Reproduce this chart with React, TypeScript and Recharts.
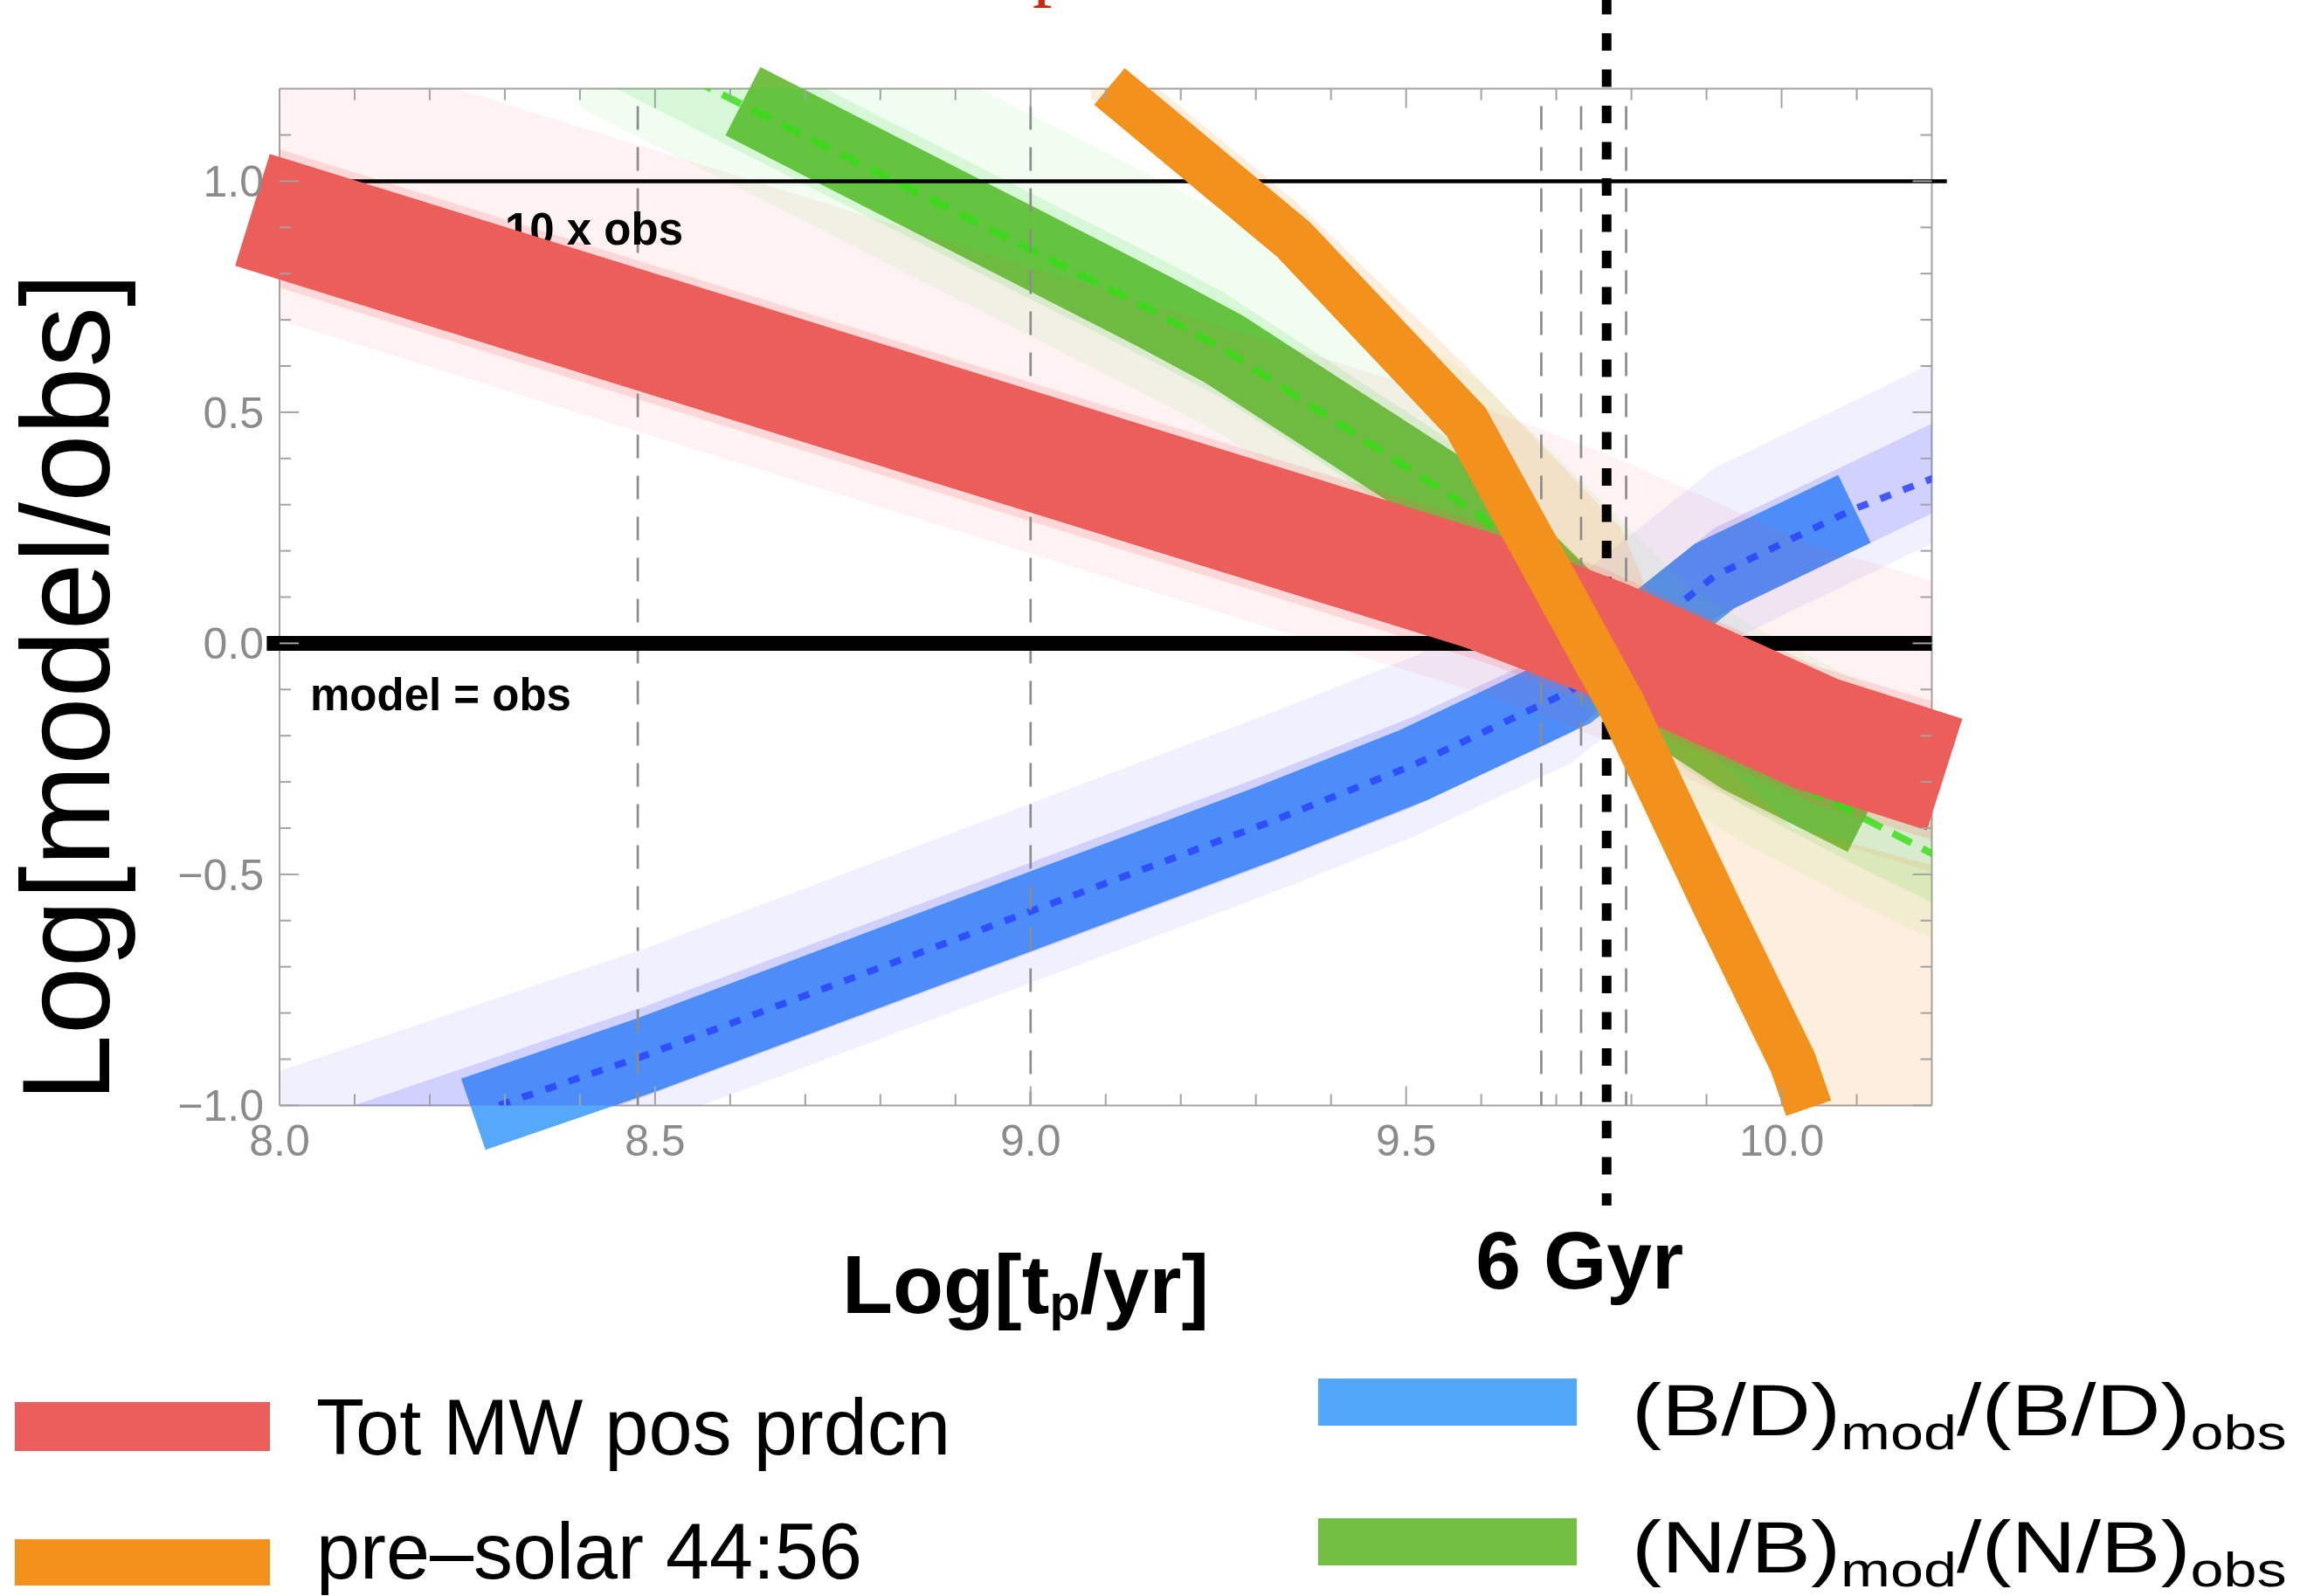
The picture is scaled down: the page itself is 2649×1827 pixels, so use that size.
import React from 'react';
import {
  ComposedChart,
  Line,
  Area,
  XAxis,
  YAxis,
  ReferenceLine,
  ReferenceDot,
} from 'recharts';

const W = 2649;
const H = 1827;
const FONT = '"Liberation Sans", Arial, Helvetica, sans-serif';
const SERIF = '"Liberation Serif", "Times New Roman", serif';

// ---------- Tot MW positron production (red) ----------
const totMwX = [7.964, 9.602, 9.766, 10.047, 10.217];
const totMwY = [0.938, 0.112, 0.01, -0.196, -0.284];
const totMwRangeX = [7.9, 9.602, 9.766, 10.047, 10.25];
const totMwOuterLo = [0.75, -0.11, -0.21, -0.42, -0.52];
const totMwOuterHi = [1.37, 0.51, 0.41, 0.21, 0.11];
const totMwInnerLo = [0.82, -0.04, -0.14, -0.35, -0.45];
const totMwInnerHi = [1.12, 0.26, 0.16, -0.05, -0.15];

// ---------- pre-solar 44:56 (orange) ----------
const preSolarX = [9.105, 9.35, 9.58, 9.786, 9.915, 10.015, 10.036];
const preSolarY = [1.205, 0.874, 0.479, -0.131, -0.574, -0.907, -1.006];
const preSolarRangeX = [9.08, 9.35, 9.58, 9.786, 9.915, 10.015, 10.2];
const preSolarLo = [1.18, 0.82, 0.43, -0.18, -0.62, -0.96, -1.8];
const preSolarHi = [1.32, 0.96, 0.6, 0.25, -0.25, -0.4, -0.48];

// ---------- (B/D)mod/(B/D)obs (blue) ----------
const bdX = [8.258, 8.488, 9.313, 9.508, 9.719, 9.911, 10.097];
const bdY = [-1.019, -0.891, -0.39, -0.265, -0.103, 0.146, 0.291];
const bdMedianX = [8.2, 8.488, 9.313, 9.508, 9.719, 9.911, 10.097, 10.23];
const bdMedianY = [-1.051, -0.891, -0.39, -0.265, -0.103, 0.146, 0.291, 0.375];
const bdRangeX = [7.9, 8.488, 9.313, 9.508, 9.719, 9.911, 10.097, 10.25];
const bdOuterLo = [-1.37, -1.045, -0.545, -0.42, -0.26, -0.01, 0.135, 0.255];
const bdOuterHi = [-0.98, -0.66, -0.155, -0.03, 0.13, 0.38, 0.525, 0.645];
const bdInnerLo = [-1.31, -0.98, -0.48, -0.355, -0.195, 0.055, 0.2, 0.32];
const bdInnerHi = [-1.11, -0.785, -0.285, -0.16, 0.0, 0.25, 0.395, 0.515];

// ---------- (N/B)mod/(N/B)obs (green) ----------
const nbX = [8.617, 9.163, 9.256, 9.596, 9.871, 9.947, 10.111];
const nbY = [1.173, 0.719, 0.638, 0.28, -0.162, -0.243, -0.377];
const nbMedianX = [8.55, 9.163, 9.256, 9.596, 9.871, 9.947, 10.111, 10.23];
const nbMedianY = [1.22, 0.719, 0.638, 0.28, -0.162, -0.243, -0.38, -0.48];
const nbRangeX = [8.4, 9.163, 9.256, 9.596, 9.871, 9.947, 10.111, 10.25];
const nbOuterLo = [1.16, 0.53, 0.45, 0.09, -0.35, -0.43, -0.57, -0.68];
const nbOuterHi = [1.64, 1.01, 0.93, 0.57, 0.13, 0.05, -0.09, -0.2];
const nbInnerLo = [1.24, 0.61, 0.53, 0.17, -0.27, -0.35, -0.49, -0.6];
const nbInnerHi = [1.47, 0.84, 0.76, 0.4, -0.04, -0.12, -0.26, -0.37];

// ---------- reference ages and levels ----------
const ageMarksX = [8.477, 9.0, 9.68, 9.733, 9.793];
const sixGyrX = 9.767;
const tenTimesLevel = 1.0;
const equalityLevel = 0.0;

// ---------- axes ----------
const xDomain = [8, 10.2];
const yDomain = [-1, 1.2];
const xTicks = [8.0, 8.1, 8.2, 8.3, 8.4, 8.5, 8.6, 8.7, 8.8, 8.9, 9.0, 9.1, 9.2, 9.3, 9.4, 9.5, 9.6, 9.7, 9.8, 9.9, 10.0, 10.1];
const xMajor = [8.0, 8.5, 9.0, 9.5, 10.0];
const yTicks = [-1.0, -0.9, -0.8, -0.7, -0.6, -0.5, -0.4, -0.3, -0.2, -0.1, 0.0, 0.1, 0.2, 0.3, 0.4, 0.5, 0.6, 0.7, 0.8, 0.9, 1.0, 1.1];
const yMajor = [-1.0, -0.5, 0.0, 0.5, 1.0];

// ---------- legend ----------
const legendLeft = [
  { label: 'Tot MW pos prdcn', color: '#ec5e59' },
  { label: 'pre\u2013solar 44:56', color: '#f2911b' },
];
const legendRight = [
  { num: 'B/D', color: '#53a7fa' },
  { num: 'N/B', color: '#72bf44' },
];

const pts = (xs: number[], ys: number[]) => xs.map((x, i) => ({ x, y: ys[i] }));
const band = (xs: number[], lo: number[], hi: number[]) =>
  xs.map((x, i) => ({ x, range: [lo[i], hi[i]] }));

const FRAME = '#a3a3a3';
const TICK_TEXT = '#8b8b8b';
const isMajor = (v: number, majors: number[]) => majors.some((m) => Math.abs(m - v) < 1e-6);
const fmt = (v: number) => (v < -1e-9 ? '\u2212' : '') + Math.abs(v).toFixed(1);

const BottomTick = (p: any) => {
  const v = p.payload.value;
  const major = isMajor(v, xMajor);
  return (
    <g>
      <line x1={p.x} x2={p.x} y1={p.y} y2={p.y - (major ? 22 : 13)} stroke={FRAME} strokeWidth={2} />
      {major && (
        <text x={p.x} y={p.y + 58} textAnchor="middle" fontFamily={FONT} fontSize={50} fill={TICK_TEXT}>
          {fmt(v)}
        </text>
      )}
    </g>
  );
};
const TopTick = (p: any) => {
  const major = isMajor(p.payload.value, xMajor);
  return <line x1={p.x} x2={p.x} y1={p.y} y2={p.y + (major ? 22 : 13)} stroke={FRAME} strokeWidth={2} />;
};
const LeftTick = (p: any) => {
  const v = p.payload.value;
  const major = isMajor(v, yMajor);
  return (
    <g>
      <line x1={p.x} x2={p.x + (major ? 22 : 13)} y1={p.y} y2={p.y} stroke={FRAME} strokeWidth={2} />
      {major && (
        <text x={p.x - 18} y={p.y + 18} textAnchor="end" fontFamily={FONT} fontSize={50} fill={TICK_TEXT}>
          {fmt(v)}
        </text>
      )}
    </g>
  );
};
const RightTick = (p: any) => {
  const major = isMajor(p.payload.value, yMajor);
  return <line x1={p.x} x2={p.x - (major ? 22 : 13)} y1={p.y} y2={p.y} stroke={FRAME} strokeWidth={2} />;
};

const XTitle = (props: any) => {
  const vb = props.viewBox || { x: 0, y: 0 };
  return (
    <text x={vb.x + 644} y={vb.y + 237.6} fontFamily={FONT} fontWeight="bold" fontSize={95} fill="#000">
      Log[t
      <tspan fontSize={57} dy={8}>p</tspan>
      <tspan dy={-8}>/yr]</tspan>
    </text>
  );
};
const YTitle = (props: any) => {
  const vb = props.viewBox || { x: 0, y: 0, height: 0 };
  const cx = vb.x - 194;
  const cy = vb.y + vb.height / 2 + 103.5;
  return (
    <text
      transform={`translate(${cx},${cy}) rotate(-90)`}
      textAnchor="middle"
      fontFamily={FONT}
      fontSize={142}
      fill="#000"
      textLength={949}
      lengthAdjust="spacingAndGlyphs"
    >
      Log[model/obs]
    </text>
  );
};

const note = (txt: string, size: number, anchor: 'start' | 'middle') => (p: any) => (
  <text x={p.cx} y={p.cy} textAnchor={anchor} fontFamily={FONT} fontWeight="bold" fontSize={size} fill="#000">
    {txt}
  </text>
);

const thick = {
  xAxisId: 'b',
  yAxisId: 'l',
  dataKey: 'y',
  type: 'linear' as const,
  dot: false,
  activeDot: false,
  isAnimationActive: false,
  strokeLinecap: 'butt' as const,
  strokeLinejoin: 'miter' as const,
  className: 'band-stroke',
};
const shade = {
  xAxisId: 'b',
  yAxisId: 'l',
  dataKey: 'range',
  type: 'linear' as const,
  stroke: 'none',
  dot: false,
  activeDot: false,
  isAnimationActive: false,
};

// the thick model bands run past the frame, so their curves are not clipped
const unclip =
  '.band-stroke, .band-stroke *, [clip-path*="thickband"] { clip-path: none !important; }';

export default function App() {
  return (
    <div style={{ position: 'absolute', left: 0, top: 0, width: W, height: H, background: '#fff', overflow: 'hidden' }}>
      <style>{unclip}</style>
      <ComposedChart width={W} height={H} margin={{ top: 100.6, right: 436.5, bottom: 560.6, left: 319 }}>
        <XAxis
          xAxisId="b"
          type="number"
          dataKey="x"
          domain={xDomain}
          allowDataOverflow
          ticks={xTicks}
          interval={0}
          height={1}
          tickSize={0}
          tickMargin={0}
          tickLine={false}
          axisLine={{ stroke: FRAME, strokeWidth: 2 }}
          tick={BottomTick}
          label={XTitle}
          zIndex={1}
        />
        <XAxis
          xAxisId="t"
          orientation="top"
          type="number"
          dataKey="x"
          domain={xDomain}
          allowDataOverflow
          ticks={xTicks}
          interval={0}
          height={1}
          tickSize={0}
          tickMargin={0}
          tickLine={false}
          axisLine={{ stroke: FRAME, strokeWidth: 2 }}
          tick={TopTick}
          zIndex={1}
        />
        <YAxis
          yAxisId="l"
          type="number"
          domain={yDomain}
          allowDataOverflow
          ticks={yTicks}
          interval={0}
          width={1}
          tickSize={0}
          tickMargin={0}
          tickLine={false}
          axisLine={{ stroke: FRAME, strokeWidth: 2 }}
          tick={LeftTick}
          label={YTitle}
          zIndex={1}
        />
        <YAxis
          yAxisId="r"
          orientation="right"
          type="number"
          domain={yDomain}
          allowDataOverflow
          ticks={yTicks}
          interval={0}
          width={1}
          tickSize={0}
          tickMargin={0}
          tickLine={false}
          axisLine={{ stroke: FRAME, strokeWidth: 2 }}
          tick={RightTick}
          zIndex={1}
        />

        {/* thick model bands that sit under the shaded ranges */}
        <Line {...thick} id="thickband-bd" data={pts(bdX, bdY)} stroke="#55a8fa" strokeWidth={86} zIndex={10} />
        <Line {...thick} id="thickband-nb" data={pts(nbX, nbY)} stroke="#72bf44" strokeWidth={88} zIndex={11} />

        {/* shaded ranges */}
        <Area {...shade} data={band(bdRangeX, bdOuterLo, bdOuterHi)} fill="#3030ff" fillOpacity={0.075} zIndex={20} />
        <Area {...shade} data={band(bdRangeX, bdInnerLo, bdInnerHi)} fill="#3030ff" fillOpacity={0.16} zIndex={21} />
        <Area {...shade} data={band(nbRangeX, nbOuterLo, nbOuterHi)} fill="#33dd33" fillOpacity={0.07} zIndex={22} />
        <Area {...shade} data={band(nbRangeX, nbInnerLo, nbInnerHi)} fill="#33dd33" fillOpacity={0.14} zIndex={23} />
        <Area {...shade} data={band(totMwRangeX, totMwOuterLo, totMwOuterHi)} fill="#ec5e59" fillOpacity={0.08} zIndex={24} />
        <Area {...shade} data={band(totMwRangeX, totMwInnerLo, totMwInnerHi)} fill="#ff5a5a" fillOpacity={0.17} zIndex={25} />
        <Area {...shade} data={band(preSolarRangeX, preSolarLo, preSolarHi)} fill="#f5901e" fillOpacity={0.15} zIndex={26} />

        {/* median curves */}
        <Line
          xAxisId="b"
          yAxisId="l"
          data={pts(bdMedianX, bdMedianY)}
          dataKey="y"
          type="linear"
          stroke="#2a44ff"
          strokeOpacity={0.85}
          strokeWidth={8}
          strokeDasharray="13 15"
          dot={false}
          activeDot={false}
          isAnimationActive={false}
          zIndex={30}
        />
        <Line
          xAxisId="b"
          yAxisId="l"
          data={pts(nbMedianX, nbMedianY)}
          dataKey="y"
          type="linear"
          stroke="#33dd11"
          strokeOpacity={0.8}
          strokeWidth={8}
          strokeDasharray="24 14"
          dot={false}
          activeDot={false}
          isAnimationActive={false}
          zIndex={31}
        />

        {/* age markers */}
        {ageMarksX.map((x) => (
          <ReferenceLine
            key={x}
            xAxisId="b"
            yAxisId="l"
            segment={[{ x, y: 1.2 }, { x, y: -1.0 }]}
            stroke="#8c8c8c"
            strokeWidth={2.7}
            strokeDasharray="27 20"
            strokeDashoffset={27}
            ifOverflow="visible"
            zIndex={40}
          />
        ))}
        <ReferenceLine
          xAxisId="b"
          yAxisId="l"
          segment={[{ x: sixGyrX, y: 1.3987 }, { x: sixGyrX, y: -1.2167 }]}
          stroke="#000"
          strokeWidth={11}
          strokeDasharray="20 21.5"
          ifOverflow="visible"
          zIndex={41}
        />

        {/* reference levels */}
        <ReferenceLine
          xAxisId="b"
          yAxisId="l"
          segment={[{ x: 8.0, y: tenTimesLevel }, { x: 10.22, y: tenTimesLevel }]}
          stroke="#000"
          strokeWidth={4.5}
          ifOverflow="visible"
          zIndex={42}
        />
        <ReferenceLine
          xAxisId="b"
          yAxisId="l"
          segment={[{ x: 7.983, y: equalityLevel }, { x: 10.2, y: equalityLevel }]}
          stroke="#000"
          strokeWidth={17}
          ifOverflow="visible"
          zIndex={42}
        />
        <ReferenceDot xAxisId="b" yAxisId="l" x={8.3} y={0.8628} r={0} ifOverflow="visible" shape={note('10 x obs', 51, 'start')} zIndex={43} />
        <ReferenceDot xAxisId="b" yAxisId="l" x={8.0407} y={-0.1457} r={0} ifOverflow="visible" shape={note('model = obs', 51, 'start')} zIndex={43} />

        {/* bands drawn on top */}
        <Line {...thick} id="thickband-tot" data={pts(totMwX, totMwY)} stroke="#ec5e59" strokeWidth={134} zIndex={50} />
        <Line {...thick} id="thickband-pre" data={pts(preSolarX, preSolarY)} stroke="#f2911b" strokeWidth={54.5} zIndex={51} />

        <ReferenceDot xAxisId="b" yAxisId="l" x={9.731} y={-1.396} r={0} ifOverflow="visible" shape={note('6 Gyr', 93, 'middle')} zIndex={60} />
      </ComposedChart>

      <svg width={W} height={H} style={{ position: 'absolute', left: 0, top: 0, pointerEvents: 'none' }}>
        <text x={1182} y={-10} fontFamily={SERIF} fontSize={90} fill="#cc2a10">p</text>

        {legendLeft.map((item, i) => (
          <g key={item.label}>
            <rect x={17} y={i === 0 ? 1605 : 1762} width={292} height={i === 0 ? 56 : 53} fill={item.color} />
            <text
              x={362}
              y={i === 0 ? 1665 : 1807}
              fontFamily={FONT}
              fontSize={90}
              fill="#000"
              textLength={i === 0 ? 726 : 625}
              lengthAdjust="spacingAndGlyphs"
            >
              {item.label}
            </text>
          </g>
        ))}

        {legendRight.map((item, i) => (
          <g key={item.num}>
            <rect x={1509} y={i === 0 ? 1578 : 1738} width={296} height={54} fill={item.color} />
            <g transform={`translate(1868 ${i === 0 ? 1643 : 1800}) scale(1.22 1)`}>
              <text x={0} y={0} fontFamily={FONT} fontSize={84} fill="#000">
                ({item.num})
                <tspan fontSize={56} dy={16}>mod</tspan>
                <tspan dy={-16}>/({item.num})</tspan>
                <tspan fontSize={56} dy={16}>obs</tspan>
              </text>
            </g>
          </g>
        ))}
      </svg>
    </div>
  );
}
